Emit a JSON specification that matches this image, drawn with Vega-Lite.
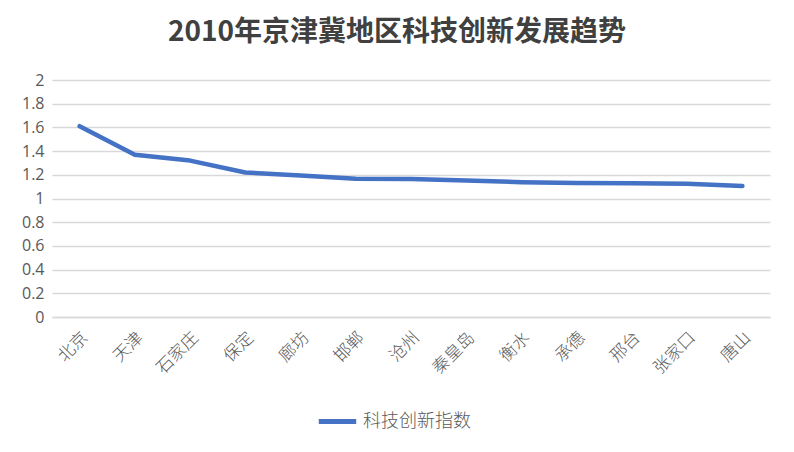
{
  "$schema": "https://vega.github.io/schema/vega-lite/v6.json",
  "autosize": "none",
  "width": 718,
  "height": 237,
  "padding": {"left": 52, "top": 80, "right": 24, "bottom": 135},
  "background": "white",
  "title": {
    "text": "2010年京津冀地区科技创新发展趋势",
    "font": "Noto Sans CJK SC",
    "fontSize": 28,
    "fontWeight": "bold",
    "color": "#404040",
    "anchor": "middle",
    "dx": -14,
    "offset": 25
  },
  "data": {
    "values": [
      {"city": "北京", "value": 1.61, "series": "科技创新指数"},
      {"city": "天津", "value": 1.37, "series": "科技创新指数"},
      {"city": "石家庄", "value": 1.32, "series": "科技创新指数"},
      {"city": "保定", "value": 1.22, "series": "科技创新指数"},
      {"city": "廊坊", "value": 1.195, "series": "科技创新指数"},
      {"city": "邯郸", "value": 1.167, "series": "科技创新指数"},
      {"city": "沧州", "value": 1.165, "series": "科技创新指数"},
      {"city": "秦皇岛", "value": 1.152, "series": "科技创新指数"},
      {"city": "衡水", "value": 1.138, "series": "科技创新指数"},
      {"city": "承德", "value": 1.13, "series": "科技创新指数"},
      {"city": "邢台", "value": 1.128, "series": "科技创新指数"},
      {"city": "张家口", "value": 1.125, "series": "科技创新指数"},
      {"city": "唐山", "value": 1.105, "series": "科技创新指数"}
    ]
  },
  "mark": {"type": "line", "strokeWidth": 4.5, "strokeCap": "round", "strokeJoin": "round"},
  "encoding": {
    "x": {
      "field": "city",
      "type": "nominal",
      "sort": null,
      "scale": {"type": "band", "paddingInner": 0, "paddingOuter": 0},
      "axis": {
        "title": null,
        "labelAngle": -45,
        "labelFont": "Noto Sans CJK SC",
        "labelFontSize": 17,
        "labelFontWeight": 300,
        "labelColor": "#595959",
        "labelPadding": 12,
        "ticks": false,
        "domain": true,
        "domainColor": "#d9d9d9",
        "domainWidth": 1.5,
        "grid": false
      }
    },
    "y": {
      "field": "value",
      "type": "quantitative",
      "scale": {"domain": [0, 2], "nice": false},
      "axis": {
        "title": null,
        "values": [0, 0.2, 0.4, 0.6, 0.8, 1, 1.2, 1.4, 1.6, 1.8, 2],
        "format": "~g",
        "labelFont": "Open Sans",
        "labelFontSize": 16,
        "labelColor": "#595959",
        "labelPadding": 8,
        "ticks": false,
        "domain": false,
        "grid": true,
        "gridColor": "#d9d9d9",
        "gridWidth": 1.5
      }
    },
    "color": {
      "field": "series",
      "type": "nominal",
      "scale": {"range": ["#4472C4"]},
      "legend": {
        "title": null,
        "orient": "none",
        "legendX": 264,
        "legendY": 320,
        "symbolType": "stroke",
        "symbolStrokeWidth": 5,
        "symbolSize": 1400,
        "labelFont": "Noto Sans CJK SC",
        "labelFontSize": 18,
        "labelFontWeight": 300,
        "labelColor": "#595959",
        "labelOffset": 4
      }
    }
  },
  "config": {"view": {"stroke": null}}
}
